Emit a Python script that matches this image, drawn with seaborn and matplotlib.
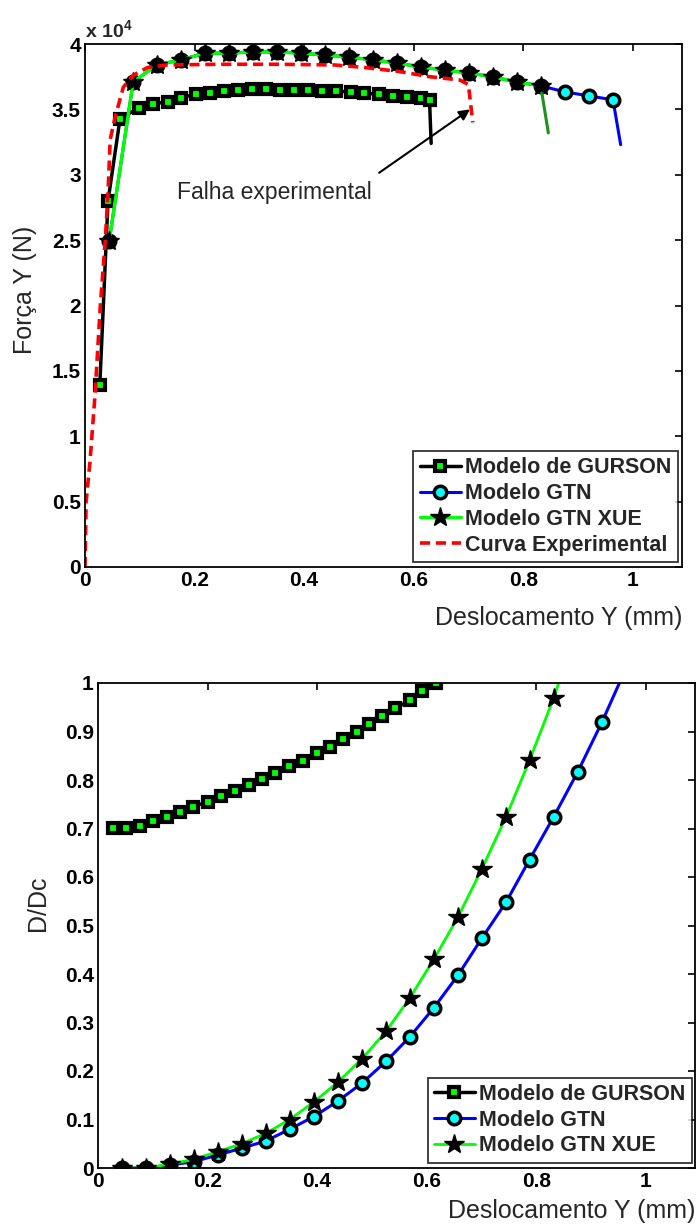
import matplotlib
matplotlib.use("Agg")
import matplotlib.pyplot as plt
import seaborn as sns
import pandas as pd

# ---------------- data: top chart (force vs displacement) ----------------
gurson_f_x = [0.027, 0.042, 0.064, 0.098, 0.125, 0.151, 0.176, 0.202, 0.228, 0.254,
              0.279, 0.305, 0.331, 0.356, 0.382, 0.408, 0.433, 0.459, 0.485, 0.510,
              0.536, 0.562, 0.587, 0.613, 0.629, 0.632]
gurson_f_y = [13900, 28000, 34300, 35100, 35420, 35600, 35900, 36150, 36280, 36400,
              36520, 36550, 36550, 36520, 36480, 36450, 36430, 36400, 36320, 36250,
              36150, 36050, 35950, 35850, 35730, 32400]

xue_f_x = [0.044, 0.088, 0.131, 0.175, 0.219, 0.263, 0.307, 0.350, 0.394, 0.438,
           0.482, 0.526, 0.569, 0.613, 0.657, 0.701, 0.745, 0.788, 0.832]
xue_f_y = [24900, 37100, 38400, 38780, 39300, 39300, 39400, 39400, 39300, 39160,
           39000, 38780, 38550, 38240, 38000, 37790, 37480, 37100, 36800]
xue_f_drop_x = [0.832, 0.846]
xue_f_drop_y = [36800, 33200]

gtn_f_x = [0.044, 0.088, 0.131, 0.175, 0.219, 0.263, 0.307, 0.350, 0.394, 0.438,
           0.482, 0.526, 0.569, 0.613, 0.657, 0.701, 0.745, 0.788, 0.832, 0.876,
           0.920, 0.964, 0.978]
gtn_f_y = [24900, 37100, 38400, 38780, 39300, 39300, 39400, 39400, 39300, 39160,
           39000, 38780, 38550, 38240, 38000, 37790, 37480, 37100, 36800, 36340,
           36030, 35730, 32300]

exp_x = [0.0, 0.002, 0.009, 0.018, 0.028, 0.037, 0.042, 0.046, 0.055, 0.070, 0.088,
         0.114, 0.150, 0.250, 0.350, 0.455, 0.511, 0.573, 0.629, 0.684, 0.700, 0.708]
exp_y = [0, 5000, 8000, 13000, 20000, 25000, 28600, 32700, 34400, 36700, 37600,
         38200, 38400, 38450, 38450, 38400, 38200, 37900, 37500, 37250, 36900, 34000]

# ---------------- data: bottom chart (D/Dc vs displacement) ----------------
gurson_d_x = [0.028, 0.052, 0.077, 0.101, 0.126, 0.150, 0.174, 0.200, 0.224, 0.250,
              0.275, 0.299, 0.324, 0.348, 0.374, 0.399, 0.423, 0.447, 0.473, 0.494,
              0.519, 0.543, 0.569, 0.592, 0.618]
gurson_d_y = [0.701, 0.701, 0.705, 0.715, 0.724, 0.734, 0.745, 0.755, 0.766, 0.778,
              0.790, 0.802, 0.814, 0.828, 0.839, 0.855, 0.869, 0.885, 0.899, 0.915,
              0.931, 0.948, 0.964, 0.983, 1.000]

gtn_d_x = [0.044, 0.088, 0.131, 0.175, 0.219, 0.263, 0.307, 0.350, 0.394, 0.438,
           0.482, 0.526, 0.569, 0.613, 0.657, 0.701, 0.745, 0.788, 0.832, 0.876,
           0.920, 0.952]
gtn_d_y = [0.0, 0.0, 0.006, 0.013, 0.027, 0.041, 0.056, 0.080, 0.106, 0.138,
           0.175, 0.220, 0.270, 0.330, 0.397, 0.474, 0.548, 0.636, 0.724, 0.817,
           0.919, 1.000]

xue_d_x = [0.044, 0.088, 0.131, 0.175, 0.219, 0.263, 0.307, 0.350, 0.394, 0.438,
           0.482, 0.526, 0.569, 0.613, 0.657, 0.701, 0.745, 0.788, 0.832, 0.841]
xue_d_y = [0.0, 0.0, 0.008, 0.018, 0.034, 0.050, 0.072, 0.100, 0.136, 0.177,
           0.225, 0.282, 0.350, 0.430, 0.517, 0.617, 0.724, 0.841, 0.969, 1.000]

labels_top = ["Modelo de GURSON", "Modelo GTN", "Modelo GTN XUE", "Curva Experimental"]
labels_bottom = ["Modelo de GURSON", "Modelo GTN", "Modelo GTN XUE"]
x_ticks = [0, 0.2, 0.4, 0.6, 0.8, 1.0]
force_ticks = [0, 5000, 10000, 15000, 20000, 25000, 30000, 35000, 40000]
damage_ticks = [0, 0.1, 0.2, 0.3, 0.4, 0.5, 0.6, 0.7, 0.8, 0.9, 1.0]

# ---------------- style ----------------
sns.set_theme(style="white")
plt.rcParams["font.family"] = ["Liberation Sans", "DejaVu Sans"]
plt.rcParams["mathtext.fontset"] = "custom"
plt.rcParams["mathtext.bf"] = "Liberation Sans:bold"
plt.rcParams["mathtext.rm"] = "Liberation Sans:bold"
plt.rcParams["mathtext.default"] = "bf"

fig = plt.figure(figsize=(7.0, 12.27), dpi=100)
W, H = 700.0, 1227.0
ax1 = fig.add_axes([85 / W, 1 - 567 / H, 597 / W, 523 / H])
ax2 = fig.add_axes([98 / W, 1 - 1168 / H, 597 / W, 485 / H])

sq = dict(marker="s", markersize=7, markerfacecolor="#00ff00", markeredgecolor="black",
          markeredgewidth=3)
circ = dict(marker="o", markersize=9, markerfacecolor="#00ffff", markeredgecolor="black",
            markeredgewidth=2.5)
star = dict(marker="*", markersize=15, markerfacecolor="black", markeredgecolor="black",
            markeredgewidth=1)


def line(ax, x, y, color, lw, every=None, **kw):
    df = pd.DataFrame({"x": x, "y": y})
    sns.lineplot(data=df, x="x", y="y", ax=ax, sort=False, estimator=None,
                 color=color, linewidth=lw, markevery=every, **kw)
    return ax.lines[-1]


# ---- top ----
h_g = line(ax1, gurson_f_x, gurson_f_y, "black", 2.5,
           every=list(range(len(gurson_f_x) - 1)), **sq)
h_gtn = line(ax1, gtn_f_x, gtn_f_y, "#0000ff", 2.2,
             every=list(range(len(gtn_f_x) - 1)), **circ)
line(ax1, xue_f_drop_x, xue_f_drop_y, "#1f8f1f", 2.2)
h_x = line(ax1, xue_f_x, xue_f_y, "#00ff00", 2.4, **star)
h_e = line(ax1, exp_x, exp_y, "#ff0000", 2.6, linestyle=(0, (2.8, 1.6)))

ax1.set_xlim(0, 1.09)
ax1.set_ylim(0, 40000)
ax1.set_xticks(x_ticks)
ax1.set_xticklabels(["%g" % v for v in x_ticks], fontweight="bold")
ax1.set_yticks(force_ticks)
ax1.set_yticklabels(["%g" % (v / 1e4) for v in force_ticks], fontweight="bold")
ax1.text(0.0, 1.006, r"x 10$^{4}$", transform=ax1.transAxes, fontsize=14,
         fontweight="bold", ha="left", va="bottom")

ax1.text(0.168, 28630, "Falha experimental", fontsize=16.5, ha="left", va="center")
ax1.annotate("", xy=(0.703, 35000), xytext=(0.537, 30150),
             arrowprops=dict(arrowstyle="-|>", color="black", lw=1.5,
                             mutation_scale=16, shrinkA=0, shrinkB=0))

ax1.set_ylabel("Força Y (N)", fontsize=18)
ax1.yaxis.set_label_coords(-0.08, 0.53)
ax1.set_xlabel("Deslocamento Y (mm)", fontsize=18, loc="right")
ax1.xaxis.set_label_coords(1.0, -0.074)

leg1 = ax1.legend([h_g, h_gtn, h_x, h_e], labels_top, loc="lower right",
                  bbox_to_anchor=(0.993, 0.0096), borderaxespad=0,
                  prop={"weight": "bold", "size": 15.5}, frameon=True, fancybox=False,
                  edgecolor="black", handlelength=1.9, handletextpad=0.2,
                  borderpad=0.3, labelspacing=0.22, numpoints=1)
leg1.get_frame().set_linewidth(1.3)

# ---- bottom ----
h2_g = line(ax2, gurson_d_x, gurson_d_y, "black", 2.5, **sq)
h2_gtn = line(ax2, gtn_d_x, gtn_d_y, "#0000ff", 2.2,
              every=list(range(len(gtn_d_x) - 1)), **circ)
h2_x = line(ax2, xue_d_x, xue_d_y, "#00ff00", 2.0,
            every=list(range(len(xue_d_x) - 1)), **star)

ax2.set_xlim(0, 1.09)
ax2.set_ylim(0, 1)
ax2.set_xticks(x_ticks)
ax2.set_xticklabels(["%g" % v for v in x_ticks], fontweight="bold")
ax2.set_yticks(damage_ticks)
ax2.set_yticklabels(["%g" % v for v in damage_ticks], fontweight="bold")
ax2.set_ylabel("D/Dc", fontsize=18)
ax2.yaxis.set_label_coords(-0.08, 0.545)
ax2.set_xlabel("Deslocamento Y (mm)", fontsize=18, loc="right")
ax2.xaxis.set_label_coords(1.0, -0.064)

leg2 = ax2.legend([h2_g, h2_gtn, h2_x], labels_bottom, loc="lower right",
                  bbox_to_anchor=(0.995, 0.0104), borderaxespad=0,
                  prop={"weight": "bold", "size": 15.5}, frameon=True, fancybox=False,
                  edgecolor="black", handlelength=1.9, handletextpad=0.2,
                  borderpad=0.3, labelspacing=0.22, numpoints=1)
leg2.get_frame().set_linewidth(1.3)

for ax in (ax1, ax2):
    ax.set_facecolor("white")
    ax.tick_params(direction="in", length=5, width=1.2, top=True, right=True,
                   labelsize=15, pad=3, colors="black")
    for s in ax.spines.values():
        s.set_visible(True)
        s.set_color("black")
        s.set_linewidth(1.3)
    ax.grid(False)

fig.savefig("out.png", dpi=100, facecolor="white")
